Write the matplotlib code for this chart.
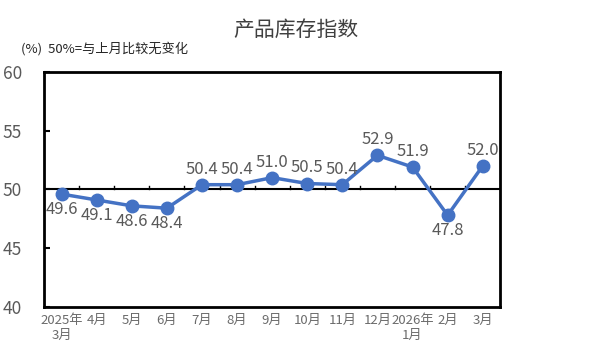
import numpy as np
import matplotlib.pyplot as plt

plt.rcParams['font.family'] = ['Noto Sans CJK SC', 'DejaVu Sans']

months = ['2025年\n3月', '4月', '5月', '6月', '7月', '8月', '9月', '10月', '11月',
          '12月', '2026年\n1月', '2月', '3月']
values = [49.6, 49.1, 48.6, 48.4, 50.4, 50.4, 51.0, 50.5, 50.4, 52.9, 51.9, 47.8, 52.0]

blue = '#4472C4'
grey = '#595959'

fig = plt.figure(figsize=(5.91, 3.54), dpi=100)
ax = fig.add_axes([0.0745, 0.133, 0.772, 0.664])

x = np.arange(len(values))
ax.plot(x, values, color=blue, lw=2.5, marker='o', ms=9, zorder=3)

# 数据标签：>=50 在上方，<50 在下方
for xi, v in zip(x, values):
    if v >= 50:
        ax.text(xi, v + 0.6, f'{v:.1f}', ha='center', va='bottom', fontsize=12, color=grey)
    else:
        ax.text(xi, v - 0.6, f'{v:.1f}', ha='center', va='top', fontsize=12, color=grey)

# 50 基准线及分隔刻度
ax.axhline(50, color='black', lw=1.5, zorder=2)
for b in x[:-1] + 0.5:
    ax.plot([b, b], [50, 50.3], color='black', lw=1, zorder=2)

ax.set_xlim(-0.5, len(values) - 0.5)
ax.set_ylim(40, 60)
ax.set_yticks([40, 45, 50, 55, 60])
ax.set_xticks(x)
ax.set_xticklabels(months, fontsize=9.5, color='#6b6b6b', linespacing=1.2)
ax.tick_params(axis='x', length=0, pad=5)
ax.tick_params(axis='y', direction='in', length=4, width=1.5, labelsize=12.5,
               labelcolor=grey, pad=16)
for s in ax.spines.values():
    s.set_linewidth(2)

fig.text(0.5, 0.915, '产品库存指数', ha='center', va='center', fontsize=15, color='#404040')
fig.text(0.035, 0.862, '(%)  50%=与上月比较无变化', ha='left', va='center', fontsize=9.5,
         color='#262626')

fig.savefig('out.png', dpi=100)
